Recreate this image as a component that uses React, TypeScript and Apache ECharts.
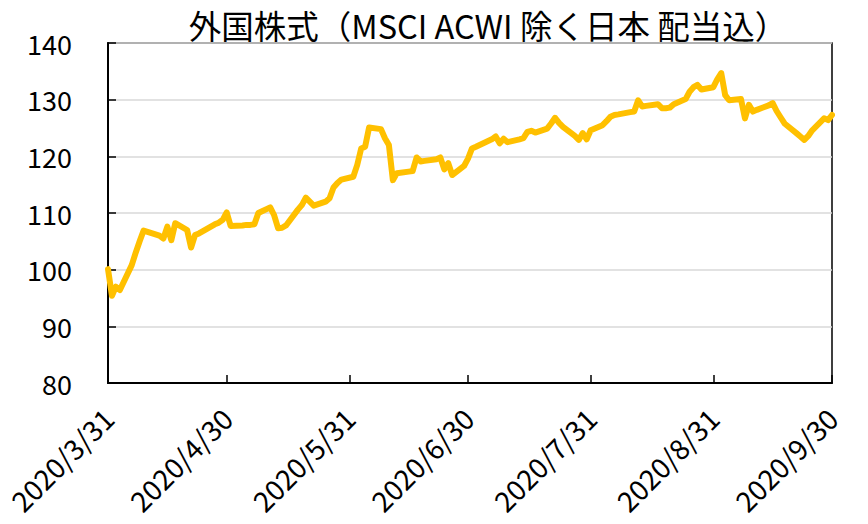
import React, { useEffect, useRef } from "react";
import * as echarts from "echarts";

const TITLE = "外国株式（MSCI ACWI 除く日本 配当込）";

const dates: string[] = [
  "2020-03-31", "2020-04-01", "2020-04-02", "2020-04-03", "2020-04-06", "2020-04-07", "2020-04-08", "2020-04-09",
  "2020-04-13", "2020-04-14", "2020-04-15", "2020-04-16", "2020-04-17", "2020-04-20", "2020-04-21", "2020-04-22",
  "2020-04-23", "2020-04-24", "2020-04-27", "2020-04-28", "2020-04-29", "2020-04-30", "2020-05-01", "2020-05-04",
  "2020-05-05", "2020-05-06", "2020-05-07", "2020-05-08", "2020-05-11", "2020-05-12", "2020-05-13", "2020-05-14",
  "2020-05-15", "2020-05-18", "2020-05-19", "2020-05-20", "2020-05-21", "2020-05-22", "2020-05-25", "2020-05-26",
  "2020-05-27", "2020-05-28", "2020-05-29", "2020-06-01", "2020-06-02", "2020-06-03", "2020-06-04", "2020-06-05",
  "2020-06-08", "2020-06-09", "2020-06-10", "2020-06-11", "2020-06-12", "2020-06-15", "2020-06-16", "2020-06-17",
  "2020-06-18", "2020-06-19", "2020-06-22", "2020-06-23", "2020-06-24", "2020-06-25", "2020-06-26", "2020-06-29",
  "2020-06-30", "2020-07-01", "2020-07-02", "2020-07-06", "2020-07-07", "2020-07-08", "2020-07-09", "2020-07-10",
  "2020-07-13", "2020-07-14", "2020-07-15", "2020-07-16", "2020-07-17", "2020-07-20", "2020-07-21", "2020-07-22",
  "2020-07-23", "2020-07-24", "2020-07-27", "2020-07-28", "2020-07-29", "2020-07-30", "2020-07-31", "2020-08-03",
  "2020-08-04", "2020-08-05", "2020-08-06", "2020-08-07", "2020-08-10", "2020-08-11", "2020-08-12", "2020-08-13",
  "2020-08-14", "2020-08-17", "2020-08-18", "2020-08-19", "2020-08-20", "2020-08-21", "2020-08-24", "2020-08-25",
  "2020-08-26", "2020-08-27", "2020-08-28", "2020-08-31", "2020-09-01", "2020-09-02", "2020-09-03", "2020-09-04",
  "2020-09-07", "2020-09-08", "2020-09-09", "2020-09-10", "2020-09-11", "2020-09-14", "2020-09-15", "2020-09-16",
  "2020-09-17", "2020-09-18", "2020-09-21", "2020-09-22", "2020-09-23", "2020-09-24", "2020-09-25", "2020-09-28",
  "2020-09-29", "2020-09-30",
];

const values: number[] = [
  100.1, 95.4, 97.0, 96.4, 100.8, 103.0, 105.0, 106.9,
  106.0, 105.5, 107.6, 105.2, 108.2, 107.0, 103.9, 106.1,
  106.4, 106.8, 108.0, 108.3, 108.8, 110.1, 107.7, 107.8,
  107.9, 107.9, 108.0, 110.0, 111.0, 109.6, 107.3, 107.4,
  107.8, 110.6, 111.4, 112.7, 112.0, 111.3, 112.0, 112.6,
  114.5, 115.3, 115.9, 116.4, 118.5, 121.4, 121.7, 125.1,
  124.8, 123.2, 122.0, 115.8, 117.0, 117.3, 117.4, 119.8,
  119.1, 119.2, 119.5, 119.8, 117.7, 118.8, 116.7, 118.3,
  119.6, 121.4, 121.7, 123.0, 123.5, 122.3, 123.1, 122.5,
  123.0, 123.2, 124.3, 124.5, 124.2, 124.9, 125.8, 126.8,
  125.9, 125.2, 123.6, 122.9, 124.1, 123.0, 124.6, 125.5,
  126.2, 127.0, 127.3, 127.4, 127.8, 127.9, 129.9, 128.8,
  128.9, 129.2, 128.5, 128.5, 128.6, 129.2, 130.1, 131.4,
  132.2, 132.6, 131.8, 132.2, 133.6, 134.7, 130.8, 129.9,
  130.1, 126.7, 129.1, 127.9, 128.2, 129.0, 129.4, 128.0,
  126.9, 125.8, 124.1, 123.5, 122.9, 123.6, 124.6, 126.7,
  126.4, 127.3,
];

const tickDates: string[] = [
  "2020-03-31", "2020-04-30", "2020-05-31", "2020-06-30", "2020-07-31", "2020-08-31", "2020-09-30",
];

const yMin = 80;
const yMax = 140;
const yStep = 10;

const FONT = "'Noto Sans CJK JP', 'Noto Sans', sans-serif";

function toTs(s: string): number {
  const [y, m, d] = s.split("-").map(Number);
  return new Date(y, m - 1, d).getTime();
}

export default function App() {
  const ref = useRef<HTMLDivElement>(null);
  useEffect(() => {
    if (!ref.current) return;
    const chart = echarts.init(ref.current, null, { renderer: "svg" });
    const ticks = tickDates.map(toTs);
    chart.setOption({
      animation: false,
      backgroundColor: "#ffffff",
      textStyle: { fontFamily: FONT },
      graphic: [
        {
          type: "text",
          x: 488,
          y: 24,
          style: {
            text: TITLE,
            fontSize: 32.5,
            fontFamily: FONT,
            fill: "#000",
            textAlign: "center",
            textVerticalAlign: "middle",
          },
        },
      ],
      grid: {
        left: 108,
        right: 36,
        top: 43,
        bottom: 141,
        show: true,
        borderColor: "#000",
        borderWidth: 1.5,
        backgroundColor: "transparent",
      },
      xAxis: {
        type: "value",
        min: ticks[0],
        max: ticks[ticks.length - 1],
        axisLine: { show: true, lineStyle: { color: "#000", width: 2 } },
        axisTick: {
          show: true,
          inside: true,
          length: 8,
          lineStyle: { color: "#000", width: 1.5 },
          customValues: ticks,
        },
        axisLabel: {
          show: true,
          rotate: 45,
          margin: 30,
          fontSize: 28,
          fontFamily: FONT,
          color: "#000",
          customValues: ticks,
          hideOverlap: false,
          formatter: (v: number) => {
            const d = new Date(v);
            return `${d.getFullYear()}/${d.getMonth() + 1}/${d.getDate()}`;
          },
        },
        splitLine: { show: false },
      },
      yAxis: {
        type: "value",
        min: yMin,
        max: yMax,
        interval: yStep,
        axisLine: { show: true, lineStyle: { color: "#000", width: 2 } },
        axisTick: { show: true, inside: true, length: 8, lineStyle: { color: "#000", width: 1.5 } },
        axisLabel: { fontSize: 27, fontFamily: FONT, color: "#000", margin: 36 },
        splitLine: { show: true, lineStyle: { color: "#d9d9d9", width: 1.5 } },
      },
      series: [
        {
          type: "line",
          data: dates.map((d, i) => [toTs(d), values[i]]),
          showSymbol: false,
          symbol: "none",
          lineStyle: { color: "#FFC000", width: 6, join: "round", cap: "round" },
          itemStyle: { color: "#FFC000" },
        },
      ],
    });
    return () => chart.dispose();
  }, []);
  return (
    <div
      ref={ref}
      style={{ position: "fixed", left: 0, top: 0, width: 868, height: 524, background: "#fff" }}
    />
  );
}
